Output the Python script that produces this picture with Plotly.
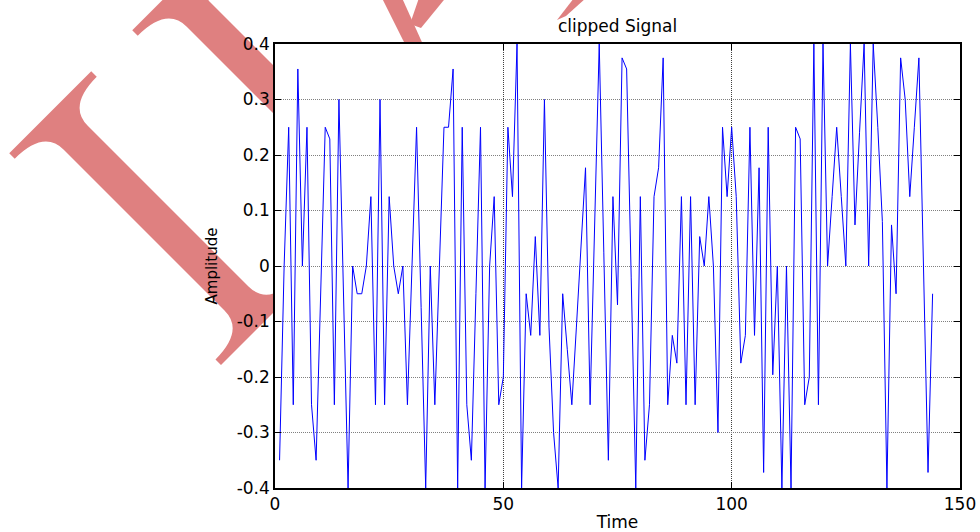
import plotly.graph_objects as go

# ---------------- data ----------------
sample_index = list(range(1, 145))
amplitude = [
    -0.35, 0.0, 0.25, -0.25, 0.355, 0.0, 0.25, -0.25, -0.35, -0.05,
    0.25, 0.229, -0.25, 0.3, -0.05, -0.4, 0.0, -0.05, -0.05, 0.0,
    0.125, -0.25, 0.3, -0.25, 0.125, 0.0, -0.05, 0.0, -0.25, 0.0,
    0.25, -0.075, -0.4, 0.0, -0.25, 0.0, 0.25, 0.25, 0.355, -0.4,
    0.25, -0.25, -0.35, -0.05, 0.25, -0.4, 0.0, 0.125, -0.25, -0.2,
    0.25, 0.125, 0.4, -0.4, -0.05, -0.125, 0.053, -0.125, 0.3, -0.11,
    -0.3, -0.4, -0.05, -0.15, -0.25, -0.11, 0.03, 0.177, -0.25, 0.075,
    0.4, 0.025, -0.35, 0.125, -0.07, 0.375, 0.355, -0.02, -0.4, 0.125,
    -0.35, -0.25, 0.125, 0.177, 0.375, -0.25, -0.125, -0.175, 0.125, -0.25,
    0.125, -0.25, 0.053, 0.0, 0.125, 0.0, -0.3, 0.25, 0.125, 0.25,
    0.125, -0.175, -0.125, 0.25, -0.125, 0.177, -0.372, 0.25, -0.196, 0.0,
    -0.4, 0.0, -0.4, 0.25, 0.229, -0.25, -0.2, 0.4, -0.25, 0.4,
    0.0, 0.125, 0.25, 0.125, 0.0, 0.4, 0.074, 0.24, 0.4, 0.0,
    0.4, 0.25, 0.08, -0.4, 0.074, -0.05, 0.375, 0.3, 0.125, 0.25,
    0.375, 0.0, -0.372, -0.05,
]
x_ticks = [0, 50, 100, 150]
x_tick_labels = ["0", "50", "100", "150"]
y_ticks = [-0.4, -0.3, -0.2, -0.1, 0, 0.1, 0.2, 0.3, 0.4]
y_tick_labels = ["-0.4", "-0.3", "-0.2", "-0.1", "0", "0.1", "0.2", "0.3", "0.4"]

# ---------------- layout geometry ----------------
W, H = 980, 532
ML, MR, MT, MB = 275, 20, 44, 44
PW, PH = W - ML - MR, H - MT - MB
FONT = "DejaVu Sans"
WM = "rgb(223,128,128)"


def px(x, y):
    return f"{(x - ML) / PW:.5f},{(H - MB - y) / PH:.5f}"


def pq(p, q):
    # rotated frame: p = x + y, q = y - x
    return px((p - q) / 2.0, (p + q) / 2.0)


def letter_i(qc, p0=162.5, p1=586.0, hs=24.0, hf=82.0, t=11.0, fl=40.0):
    return (
        f"M {pq(p0, qc - hf)} L {pq(p0, qc + hf)} L {pq(p0 + t, qc + hf)} "
        f"Q {pq(p0 + t, qc + hs)} {pq(p0 + t + fl, qc + hs)} "
        f"L {pq(p1 - t - fl, qc + hs)} "
        f"Q {pq(p1 - t, qc + hs)} {pq(p1 - t, qc + hf)} "
        f"L {pq(p1, qc + hf)} L {pq(p1, qc - hf)} L {pq(p1 - t, qc - hf)} "
        f"Q {pq(p1 - t, qc - hs)} {pq(p1 - t - fl, qc - hs)} "
        f"L {pq(p0 + t + fl, qc - hs)} "
        f"Q {pq(p0 + t, qc - hs)} {pq(p0 + t, qc - hf)} Z"
    )


def poly(pts):
    return "M " + " L ".join(px(a, b) for a, b in pts) + " Z"


shapes = []
for path in [
    letter_i(62.0),
    letter_i(-184.0),
    poly([(380.4, -5), (400.7, -5), (430, 60), (413, 60)]),
    poly([(420, -5), (448, -5), (421, 28), (410, 24)]),
    poly([(557, 20), (574, -2), (586, -2), (566, 16)]),
]:
    shapes.append(dict(type="path", path=path, xref="paper", yref="paper",
                       fillcolor=WM, line=dict(width=0), layer="below"))
# white plot area hides the watermark inside the axes
shapes.append(dict(type="rect", xref="paper", yref="paper", x0=0, x1=1, y0=0, y1=1,
                   fillcolor="white", line=dict(width=0), layer="below"))

fig = go.Figure()
fig.add_trace(go.Scatter(x=sample_index, y=amplitude, mode="lines",
                         line=dict(color="#0000FF", width=1), showlegend=False))

axis_common = dict(
    showline=True, linecolor="black", linewidth=1.5, mirror="ticks",
    ticks="inside", ticklen=6, tickcolor="black", tickwidth=1,
    showgrid=True, griddash="1px,1px", gridwidth=1,
    zeroline=False, tickfont=dict(family=FONT, size=17, color="black"),
    tickmode="array", automargin=False,
)

fig.update_layout(
    width=W, height=H,
    margin=dict(l=ML, r=MR, t=MT, b=MB, pad=0),
    paper_bgcolor="white", plot_bgcolor="white",
    shapes=shapes,
    title=dict(text="clipped Signal", x=(ML + PW / 2) / W, xanchor="center",
               xref="container", yref="container", y=1 - 26 / H, yanchor="middle",
               font=dict(family=FONT, size=17, color="black")),
    xaxis=dict(axis_common, range=[0, 150], tickvals=x_ticks, ticktext=x_tick_labels,
               gridcolor="#404040",
               title=dict(text="Time", standoff=5, font=dict(family=FONT, size=17, color="black"))),
    yaxis=dict(axis_common, range=[-0.4, 0.4], tickvals=y_ticks, ticktext=y_tick_labels,
               gridcolor="#808080",
               title=dict(text="Amplitude", standoff=15, font=dict(family=FONT, size=15, color="black"))),
)

fig.write_html("out.html")
